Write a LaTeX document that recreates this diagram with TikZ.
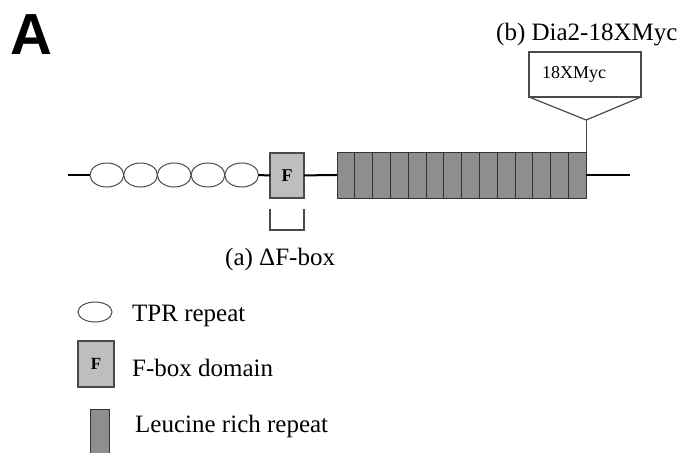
\documentclass[tikz,border=0pt]{standalone}
\usepackage{fontspec}
\setmainfont{Liberation Serif}
\newfontfamily\panelfont{Liberation Sans}
\usetikzlibrary{shapes.geometric}
\definecolor{fboxgray}{HTML}{BEBEBE}
\definecolor{lrrgray}{HTML}{8E8E8E}
\definecolor{edgegray}{HTML}{4A4A4A}
\begin{document}
\begin{tikzpicture}[x=1pt,y=-1pt,
  tpr/.style={draw=edgegray,line width=1pt,ellipse,fill=white,minimum width=33.7pt,minimum height=24pt,inner sep=0pt,outer sep=0pt},
  fdom/.style={draw=edgegray,line width=1.2pt,fill=fboxgray,minimum width=34pt,minimum height=45pt,inner sep=0pt,outer sep=0pt,font=\fontsize{18}{18}\selectfont\bfseries},
  lrr/.style={draw=black!80,line width=1pt,fill=lrrgray,minimum width=17.8pt,minimum height=46pt,inner sep=0pt,outer sep=0pt},
  lbl/.style={anchor=base west,inner sep=0pt,font=\fontsize{25}{25}\selectfont}]
\useasboundingbox (0,0) rectangle (679,452);
\node[anchor=base west,inner sep=0pt,font=\panelfont\fontsize{58}{58}\selectfont\bfseries] (panel) at (10,55) {A};
% backbone with domains
\coordinate (nterm) at (68,175);
\coordinate (cterm) at (630,175);
\node[tpr] (e1) at (106.85,175) {};
\node[tpr] (e2) at (140.55,175) {};
\node[tpr] (e3) at (174.25,175) {};
\node[tpr] (e4) at (207.95,175) {};
\node[tpr] (e5) at (241.65,175) {};
\node[fdom] (fbox) at (287,175.5) {F};
\node[lrr] (lrr1) at (345.9,175) {};
\node[lrr] (lrr2) at (363.7,175) {};
\node[lrr] (lrr3) at (381.5,175) {};
\node[lrr] (lrr4) at (399.3,175) {};
\node[lrr] (lrr5) at (417.1,175) {};
\node[lrr] (lrr6) at (434.9,175) {};
\node[lrr] (lrr7) at (452.7,175) {};
\node[lrr] (lrr8) at (470.5,175) {};
\node[lrr] (lrr9) at (488.3,175) {};
\node[lrr] (lrr10) at (506.1,175) {};
\node[lrr] (lrr11) at (523.9,175) {};
\node[lrr] (lrr12) at (541.7,175) {};
\node[lrr] (lrr13) at (559.5,175) {};
\node[lrr] (lrr14) at (577.3,175) {};
\draw[line width=2pt] (nterm) -- (e1);
\draw[line width=2pt] (e5) -- (fbox);
\draw[line width=2pt] (fbox) -- (lrr1);
\draw[line width=2pt] (lrr14) -- (cterm);
% deletion (a)
\draw[edgegray,line width=1.2pt] (270,209) -- (270,230) -- (304,230) -- (304,209);
\node[lbl] (dfbox) at (225,265) {(a) ΔF-box};
% insertion (b)
\coordinate (myctip) at (586.2,120);
\node[draw=edgegray,line width=1.2pt,minimum width=112pt,minimum height=45pt,inner sep=0pt,outer sep=0pt] (myc) at (585,74.5) {};
\node[anchor=base west,inner sep=0pt,font=\fontsize{18}{18}\selectfont] (myctext) at (542,78) {18XMyc};
\draw[edgegray,line width=1.2pt] (myc.south west) -- (myctip) -- (myc.south east);
\draw[edgegray,line width=1.2pt] (lrr14.north east) -- (myctip);
\node[lbl] (dia2) at (496,41) {(b) Dia2-18XMyc};
% legend
\node[tpr,minimum width=34pt,minimum height=20pt] (legtpr) at (95,312) {};
\node[lbl] (txttpr) at (132,321) {TPR repeat};
\node[fdom,minimum width=36pt,minimum height=46pt,font=\fontsize{17}{17}\selectfont\bfseries] (legf) at (96,364) {F};
\node[lbl] (txtf) at (132,376) {F-box domain};
\node[lrr,minimum width=19pt,minimum height=48pt] (leglrr) at (99.5,433) {};
\node[lbl] (txtlrr) at (135,432) {Leucine rich repeat};
\end{tikzpicture}
\end{document}
